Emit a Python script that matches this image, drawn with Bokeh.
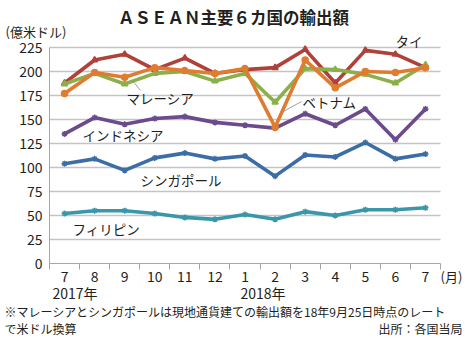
from bokeh.plotting import figure
from bokeh.models import Range1d, FixedTicker, Label, ColumnDataSource
from bokeh.embed import file_html
from bokeh.resources import INLINE

months = ["7", "8", "9", "10", "11", "12", "1", "2", "3", "4", "5", "6", "7"]
thailand = [188, 212, 218, 202, 214, 198, 202, 204, 223, 188, 222, 218, 204]
vietnam = [177, 199, 194, 204, 201, 198, 203, 142, 212, 183, 200, 199, 204]
malaysia = [187, 198, 187, 198, 200, 190, 198, 168, 203, 202, 197, 188, 207]
indonesia = [135, 152, 145, 151, 153, 147, 144, 141, 156, 144, 161, 129, 161]
singapore = [104, 109, 97, 110, 115, 109, 112, 91, 113, 111, 126, 109, 114]
philippines = [52, 55, 55, 52, 48, 46, 51, 46, 54, 50, 56, 56, 58]
y_ticks = [0, 25, 50, 75, 100, 125, 150, 175, 200, 225]

FONT = "Noto Sans CJK JP"
TXT = "#231F20"
W, H = 465, 339

# pixel layout of the plotting area inside the page
LEFT, BOTTOM, XSTEP, YSCALE = 49, 263, 30.08, 0.96

def px_x(px):
    return (px - LEFT) / XSTEP - 0.5

def px_y(py):
    return (BOTTOM - py) / YSCALE

xs = list(range(len(months)))

p = figure(width=W, height=H, output_backend="svg", toolbar_location=None,
           x_range=Range1d(px_x(0), px_x(W)), y_range=Range1d(px_y(H), px_y(0)),
           min_border=0)
p.outline_line_color = None
p.xgrid.grid_line_color = None
p.ygrid.grid_line_color = None

# x axis (months), drawn at y = 0
p.xaxis.fixed_location = 0
p.xaxis.bounds = (-0.5, 12.5)
p.xaxis.ticker = FixedTicker(ticks=xs, minor_ticks=[i - 0.5 for i in range(14)])
p.xaxis.major_label_overrides = {i: m for i, m in enumerate(months)}
p.xaxis.major_tick_line_color = None
p.xaxis.major_tick_out = 0
p.xaxis.major_tick_in = 0
p.xaxis.minor_tick_line_color = "#A6A6A6"
p.xaxis.minor_tick_out = 6
p.xaxis.minor_tick_in = 0
p.xaxis.axis_line_color = "#A6A6A6"
p.xaxis.major_label_text_font = FONT
p.xaxis.major_label_text_font_size = "14px"
p.xaxis.major_label_text_color = TXT
p.xaxis.major_label_standoff = 1

# y axis, drawn at x = -0.5
p.yaxis.fixed_location = -0.5
p.yaxis.bounds = (0, 225)
p.yaxis.ticker = FixedTicker(ticks=y_ticks)
p.yaxis.major_tick_line_color = None
p.yaxis.major_tick_out = 0
p.yaxis.major_tick_in = 0
p.yaxis.minor_tick_line_color = None
p.yaxis.axis_line_color = "#A6A6A6"
p.yaxis.major_label_text_font = FONT
p.yaxis.major_label_text_font_size = "14px"
p.yaxis.major_label_text_color = TXT
p.yaxis.major_label_standoff = 7

# horizontal grid lines
gy = y_ticks[1:]
p.segment(x0=[-0.5] * len(gy), x1=[12.5] * len(gy), y0=gy, y1=gy,
          line_color="#C4C4C4", line_width=1.3)

series = [
    (philippines, "#3A97AA", "asterisk"),
    (singapore, "#3C6EA5", "asterisk"),
    (indonesia, "#6C4B8C", "asterisk"),
    (thailand, "#B0413A", "triangle"),
    (malaysia, "#8AB04A", "triangle"),
    (vietnam, "#E07C30", "circle"),
]
for vals, col, mk in series:
    src = ColumnDataSource(dict(x=xs, y=vals))
    p.line("x", "y", source=src, line_color=col, line_width=3.6)
    p.scatter("x", "y", source=src, marker=mk, size=6, line_color=col,
              fill_color=col, line_width=1.5)

def lab(px, py, text, size="13.5px", align="left", bold=False):
    p.add_layout(Label(x=px_x(px), y=px_y(py), text=text, text_font=FONT,
                       text_font_size=size, text_align=align, text_baseline="middle",
                       text_color=TXT, text_font_style="bold" if bold else "normal"))

# series labels
lab(395, 40, "タイ")
lab(126, 97, "マレーシア")
lab(302, 101, "ベトナム")
lab(82, 134, "インドネシア")
lab(140, 179, "シンガポール")
lab(72, 228, "フィリピン")

# leader lines
p.line([px_x(132), px_x(140)], [px_y(80), px_y(90)], line_color="#888888", line_width=0.8)
p.line([px_x(283), px_x(301)], [px_y(111), px_y(101)], line_color="#888888", line_width=0.8)

# title, unit and notes
lab(233, 16, "ＡＳＥＡＮ主要６カ国の輸出額", size="16.5px", align="center", bold=True)
lab(5, 31, "(億米ドル)", size="13px")
lab(440, 276, "(月)", size="13px")
lab(52, 292, "2017年", size="14px")
lab(240, 292, "2018年", size="14px")
lab(4, 311, "※マレーシアとシンガポールは現地通貨建ての輸出額を18年9月25日時点のレート", size="12px")
lab(4, 328, "で米ドル換算", size="12px")
lab(462, 328, "出所：各国当局", size="12px", align="right")

open("out.html", "w").write(file_html(p, INLINE))
